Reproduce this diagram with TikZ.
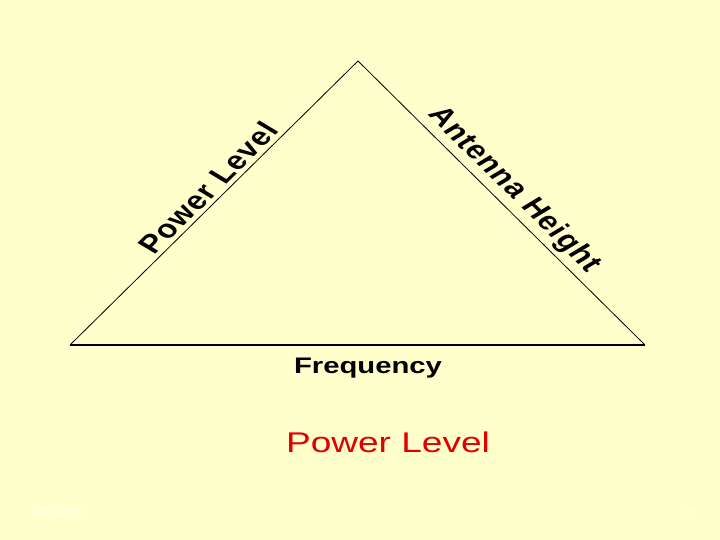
\documentclass[tikz,border=0pt]{standalone}
\usepackage{fontspec}
\setmainfont{Liberation Sans}
\definecolor{bgyellow}{HTML}{FFFFCC}
\definecolor{titlered}{HTML}{E00000}
\definecolor{faint}{HTML}{FFFFEE}
\begin{document}
\begin{tikzpicture}[x=1pt,y=-1pt,
  side/.style={line width=0.8pt,black},
  baseside/.style={line width=1.8pt,black},
  sidelabel/.style={font=\fontsize{25.5}{30}\selectfont\bfseries\addfontfeature{LetterSpace=4},inner sep=0pt,anchor=center},
  footer/.style={font=\fontsize{11}{13}\selectfont,text=faint,inner sep=0pt}]
\fill[bgyellow] (0,0) rectangle (720,540);
\useasboundingbox (0,0) rectangle (720,540);
\coordinate (apex) at (358,61);
\coordinate (bl) at (70,345);
\coordinate (br) at (645,345);
\draw[side] (bl) -- (apex) -- (br);
\draw[baseside] (bl) -- (br);
\node[sidelabel,xscale=1.3,rotate=52] (pl) at (208,188) {Power Level};
\node[sidelabel,xscale=1.3,rotate=-52] (ah) at (514,190) {Antenna Height};
\node[font=\fontsize{22.5}{26}\selectfont\bfseries,xscale=1.3,inner sep=0pt,anchor=base] (fr) at (368,373) {Frequency};
\node[font=\fontsize{28.5}{32}\selectfont,text=titlered,xscale=1.3,inner sep=0pt,anchor=base] (title) at (388,452) {Power Level};
\node[footer,anchor=base west] (date) at (33,516) {10/29/2021};
\node[footer,anchor=base east] (page) at (697,516) {20};
\end{tikzpicture}
\end{document}
